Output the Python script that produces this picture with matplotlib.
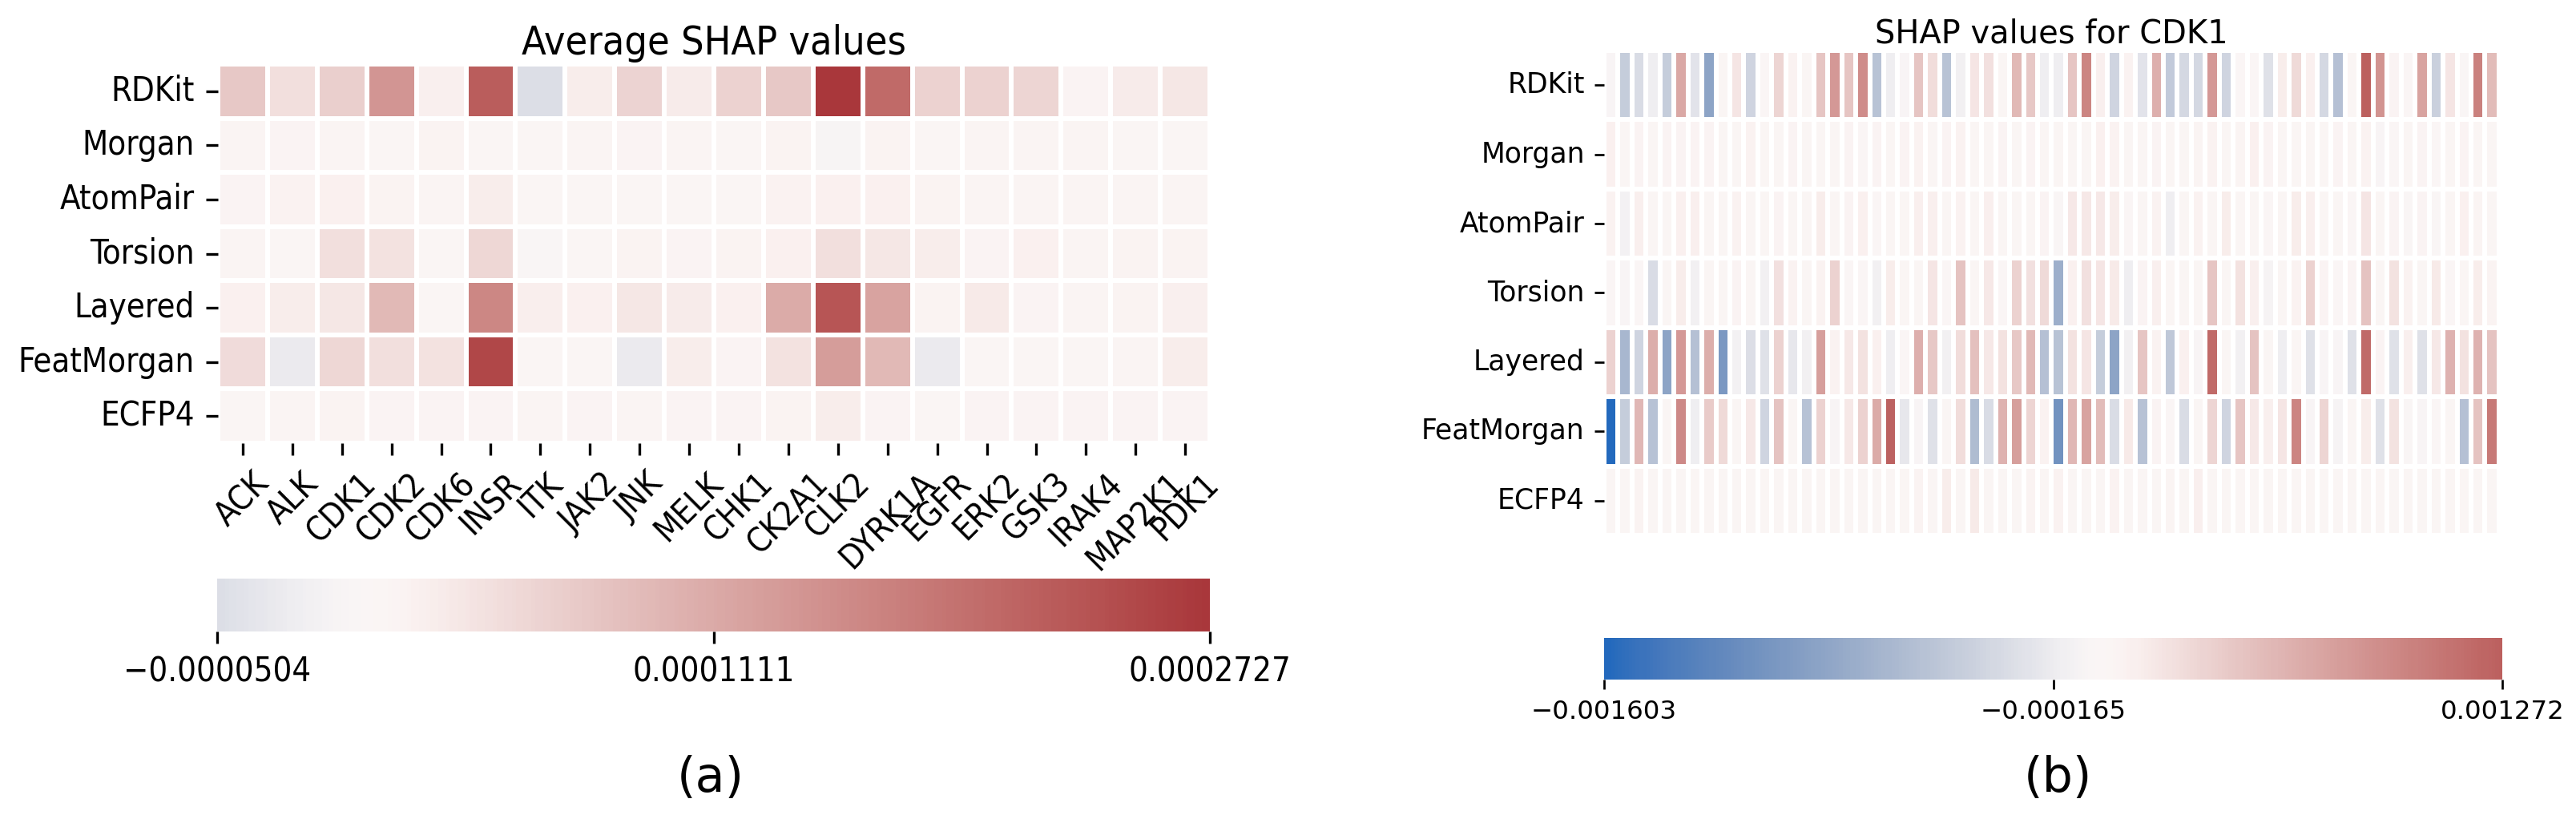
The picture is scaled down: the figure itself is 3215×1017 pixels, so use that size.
import numpy as np
import pandas as pd
import matplotlib
matplotlib.use("Agg")
import matplotlib.pyplot as plt
import seaborn as sns

fingerprints = ["RDKit", "Morgan", "AtomPair", "Torsion", "Layered", "FeatMorgan", "ECFP4"]
targets = ["ACK", "ALK", "CDK1", "CDK2", "CDK6", "INSR", "ITK", "JAK2", "JNK", "MELK",
           "CHK1", "CK2A1", "CLK2", "DYRK1A", "EGFR", "ERK2", "GSK3", "IRAK4", "MAP2K1", "PDK1"]

# (a) average SHAP value per fingerprint and target
avg_rdkit = [0.00007, 0.00004, 0.00006, 0.00014, 0.000016, 0.00022, -0.0000504, 0.00002, 0.000055, 0.000022,
             0.000058, 0.00007, 0.0002727, 0.0002, 0.000057, 0.000058, 0.000052, 0.000008, 0.000022, 0.00003]
avg_morgan = [0.000006, 0.000007, 0.000006, 0.000004, 0.00001, 0.000004, 0.000005, 0.000006, 0.000007, 0.000006,
              0.000005, 0.00001, -0.000012, 0.00001, 0.000004, 0.000006, 0.000006, 0.000006, 0.000004, 0.000005]
avg_atompair = [0.000008, 0.000012, 0.000015, 0.00001, 0.000006, 0.00002, 0.000005, 0.000005, 0.000005, 0.000004,
                0.000005, 0.000012, 0.000013, 0.000014, 0.00001, 0.000006, 0.000006, 0.000006, 0.000006, 0.000006]
avg_torsion = [0.000006, 0.000005, 0.00004, 0.000035, 0.000005, 0.00005, -0.000007, 0.000005, 0.00001, 0.000007,
               0.000009, 0.000014, 0.00004, 0.00003, 0.00002, 0.000008, 0.000015, 0.000006, 0.00001, 0.00001]
avg_layered = [0.000015, 0.00002, 0.00003, 0.00009, 0.000005, 0.00016, 0.000018, 0.000015, 0.00003, 0.000022,
               0.000013, 0.00011, 0.00023, 0.00012, 0.00001, 0.000025, 0.000007, 0.000006, 0.00001, 0.000017]
avg_featmorgan = [0.000045, -0.00003, 0.00005, 0.00004, 0.000035, 0.00025, 0.000005, 0.000004, -0.00003, 0.00002,
                  0.000007, 0.000035, 0.00013, 0.00009, -0.00003, 0.000005, 0.000005, 0.000005, 0.000006, 0.00002]
avg_ecfp4 = [0.000005, 0.000006, 0.00001, 0.000007, 0.000007, 0.000008, 0.000006, 0.000007, 0.000006, 0.000008,
             0.000007, 0.00001, 0.00002, 0.000007, 0.000005, 0.000007, 0.000007, 0.000007, 0.000007, 0.000007]

# (b) SHAP values for CDK1, 64 samples per fingerprint
cdk1_rdkit = [-0.00006, -0.00046, -0.00032, -0.00015, -0.00046, 0.00067, -0.00024, -0.0009, 0.00002, 0.00018,
              -0.0004, -0.00003, 0.0003, 0.00006, 0.00001, 0.00042, 0.0008, 0.00042, 0.0009, -0.00056,
              -0.00015, -0.00006, 0.00042, 0.00025, -0.00056, -0.00012, 0.00018, 0.00022, 0.00002, 0.00052,
              0.0004, -0.00015, -0.00015, 0.00042, 0.00095, 0.0001, -0.0004, 0.00007, -0.00024, 0.0006,
              -0.0005, -0.00035, -0.00035, 0.0008, -0.0004, -0.00003, -0.00003, -0.00027, 0.00012, 0.00027,
              0.00008, -0.00035, -0.0006, 0.00002, 0.001272, 0.00083, 0.00004, -0.00003, 0.0007, -0.00043,
              0.00018, -0.00005, 0.001, 0.0005]
cdk1_morgan = [0.00008, 0.00002, 0.00004, 0.00002, 0.00004, 0.00004, 0.00004, 0.00004, 0.00001, 0.00002,
               0.00006, 0.00001, 0.00002, 0.00004, 0.00001, 0.00002, 0.00002, 0.00004, -0.00001, 0.00004,
               0.00002, 0.00004, 0.00006, 0.00001, 0.00004, 0.00006, 0.00002, 0.00001, 0.00004, 0.00002,
               0.00004, 0.00002, 0.00001, 0.00001, 0.00001, 0.00008, 0.00007, 0.00002, 0.00001, 0.00004,
               0.00002, 0.00002, 0.00003, 0.00006, 0.00002, 0.00003, 0.00008, 0.00004, 0.00002, 0.00001,
               0.00002, 0.00002, 0.00004, 0.00002, 0.00006, -0.00006, -0.00001, 0.00002, 0.00004, 0.0,
               0.00002, 0.00004, 0.00001, 0.00002]
cdk1_atompair = [0.00006, -0.0001, 0.0001, 0.00002, 0.00002, 0.00008, 0.0001, 0.00002, 0.00002, 0.00006,
                 0.00002, 0.00002, 0.00004, 0.00002, 0.00002, 0.00012, 0.00001, 0.00004, 0.00008, -0.00003,
                 0.00002, 0.00002, 0.00009, 0.00009, 0.00002, 0.00006, 0.00002, 0.0001, 0.00002, 0.00002,
                 0.00002, 0.00004, -0.00005, 0.00015, 0.00016, 0.00016, 0.00012, -0.00003, 0.00001, 0.00006,
                 -0.00015, 0.00001, 0.00006, 0.00001, 0.00012, 0.00002, 0.00002, -0.00003, 0.00002, 0.00012,
                 0.0001, 0.00002, 0.00002, -0.00003, 0.00018, 0.00001, 0.00004, -0.00005, 0.00004, -0.00005,
                 0.00002, 0.00008, 0.00003, 0.00002]
cdk1_torsion = [0.0, -0.00006, -0.00003, -0.00032, 0.00002, 0.00012, -0.00012, 0.00002, 0.00001, 0.00004,
                0.00002, -0.00012, 0.00022, 0.00006, 0.00001, 0.00006, 0.00033, -0.00001, 0.0, -0.00012,
                0.00012, 0.00002, 0.00001, 0.00018, 0.0, 0.00045, 0.00002, 0.00015, -0.00003, 0.00033,
                0.00022, 0.00027, -0.00078, 0.00008, 0.00022, 0.00018, 0.00014, -0.00015, 0.00004, 0.0001,
                0.00001, 0.00001, 0.00001, 0.00042, 0.00001, 0.0002, 0.0001, -0.00008, 0.00001, 0.00006,
                0.00033, 0.00004, -0.00001, 0.00004, 0.00045, 0.00001, 0.0002, 0.00006, 0.00001, 0.00014,
                -0.00003, 0.00001, 0.00012, 0.00005]
cdk1_layered = [0.00033, -0.0007, -0.0004, 0.00062, -0.0009, 0.0008, -0.0006, 0.00062, -0.00105, -0.0001,
                -0.0003, -0.00027, 0.00033, -0.0002, -0.00012, 0.00074, 0.00006, 0.00016, 0.0002, 0.00008,
                -0.00015, -0.00003, 0.0006, 0.0004, -0.00012, 0.00025, 0.00047, 0.00016, 0.0002, 0.0004,
                0.00052, -0.0006, -0.00056, 0.0002, 0.00018, -0.00046, -0.0009, -0.00012, 0.00042, 0.00006,
                -0.00052, 0.00008, -0.00006, 0.00118, 0.00001, -0.00012, 0.00045, 0.00002, -0.00015, 0.00002,
                -0.00027, -0.00006, -0.00006, -0.00027, 0.00118, 0.00004, -0.00027, 0.0001, -0.00027, 0.00016,
                0.00058, 0.0002, 0.00058, 0.00045]
cdk1_featmorgan = [-0.001603, -0.00046, 0.00055, -0.00058, 0.00001, 0.00092, -0.00015, 0.00038, 0.00027, 0.00001,
                   0.00016, -0.0004, 0.00045, 0.00001, -0.00058, 0.00033, -0.00006, 0.00016, 0.00033, 0.00064,
                   0.00125, -0.0002, -0.00006, -0.00027, 0.00002, 0.00025, -0.00064, -0.00032, 0.00058, 0.00074,
                   0.0003, 0.00006, -0.00112, 0.00055, 0.0007, 0.0005, -0.00032, 0.00014, -0.00058, 0.00004,
                   0.0, -0.00032, 0.00002, 0.0003, -0.0004, 0.00042, 0.00016, 0.0001, 0.00018, 0.00095,
                   -0.00006, 0.0003, -0.00008, 0.00002, 0.00012, -0.00027, 0.0002, -0.00005, -0.00006, -0.00003,
                   0.00002, -0.0006, 0.00045, 0.00105]
cdk1_ecfp4 = [0.00001, 0.00002, 0.00005, 0.00002, 0.00002, 0.00002, 0.00002, 0.00002, 0.00002, 0.00001,
              0.00002, 0.00001, 0.00002, 0.00001, 0.00001, 0.00002, 0.00001, 0.00001, 0.00001, 0.00001,
              0.00001, 0.00001, 0.00005, 0.00001, 0.00012, 0.00001, 0.00014, 0.00002, 0.00002, 0.00002,
              0.00005, 0.00002, 0.00006, 0.00001, 0.00002, 0.00002, 0.00006, 0.00002, 0.00001, 0.00002,
              0.00003, 0.00001, 0.0001, 0.00002, 0.00002, 0.00001, 0.00001, 0.00001, 0.00002, 0.00001,
              0.00002, 0.00002, 0.00002, 0.00001, 0.00002, 0.00001, 0.00001, 0.00001, 0.00002, 0.00002,
              0.00001, 0.00002, 0.00001, 0.00002]

cbar_a_labels = ["\u22120.0000504", "0.0001111", "0.0002727"]
cbar_b_labels = ["\u22120.001603", "\u22120.000165", "0.001272"]

avg_df = pd.DataFrame([avg_rdkit, avg_morgan, avg_atompair, avg_torsion, avg_layered, avg_featmorgan, avg_ecfp4],
                      index=fingerprints, columns=targets)
cdk1_df = pd.DataFrame([cdk1_rdkit, cdk1_morgan, cdk1_atompair, cdk1_torsion, cdk1_layered, cdk1_featmorgan, cdk1_ecfp4],
                       index=fingerprints)

# panel (a) text is narrower than normal DejaVu Sans
narrow = dict(family=["DejaVu Sans Condensed", "DejaVu Sans"], fontstretch="condensed")

fig = plt.figure(figsize=(3215 / 300, 1017 / 300), dpi=300)

# (a) average values
ax_a = fig.add_axes([0.0846, 0.4562, 0.3851, 0.4651])
cax_a = fig.add_axes([0.0843, 0.2252, 0.3854, 0.0649])
a_min, a_max = avg_df.values.min(), avg_df.values.max()
sns.heatmap(avg_df, ax=ax_a, cbar_ax=cax_a, cmap="vlag", center=0, vmin=a_min, vmax=a_max,
            linewidths=1, linecolor="white",
            cbar_kws={"orientation": "horizontal", "ticks": [a_min, (a_min + a_max) / 2, a_max]})
ax_a.set_title("Average SHAP values", fontsize=12, pad=3, **narrow)
ax_a.set_yticklabels(fingerprints, rotation=0, fontsize=10, **narrow)
ax_a.set_xticklabels(targets, rotation=45, ha="center", fontsize=10, **narrow)
ax_a.set_xlabel("")
cb_a = ax_a.collections[0].colorbar
cb_a.set_ticklabels(cbar_a_labels, fontsize=10, **narrow)

# (b) CDK1
ax_b = fig.add_axes([0.6227, 0.3432, 0.3474, 0.5949])
cax_b = fig.add_axes([0.6227, 0.1662, 0.3487, 0.0511])
b_min, b_max = cdk1_df.values.min(), cdk1_df.values.max()
sns.heatmap(cdk1_df, ax=ax_b, cbar_ax=cax_b, cmap="vlag", center=0, vmin=b_min, vmax=b_max,
            linewidths=1, linecolor="white", xticklabels=False,
            cbar_kws={"orientation": "horizontal", "ticks": [b_min, (b_min + b_max) / 2, b_max]})
ax_b.set_title("SHAP values for CDK1", fontsize=9.6, pad=2.2)
ax_b.set_yticklabels(fingerprints, rotation=0, fontsize=8.3)
ax_b.tick_params(axis="y", length=2.9, pad=2.9, width=0.65)
cb_b = ax_b.collections[0].colorbar
cb_b.set_ticklabels(cbar_b_labels)
cb_b.ax.tick_params(labelsize=7.8, length=2.9, pad=3, width=0.65)

fig.text(0.2759, 0.0452, "(a)", fontsize=14.5, ha="center", va="center")
fig.text(0.7988, 0.0452, "(b)", fontsize=14.5, ha="center", va="center")

fig.savefig("out.png", dpi=300)
